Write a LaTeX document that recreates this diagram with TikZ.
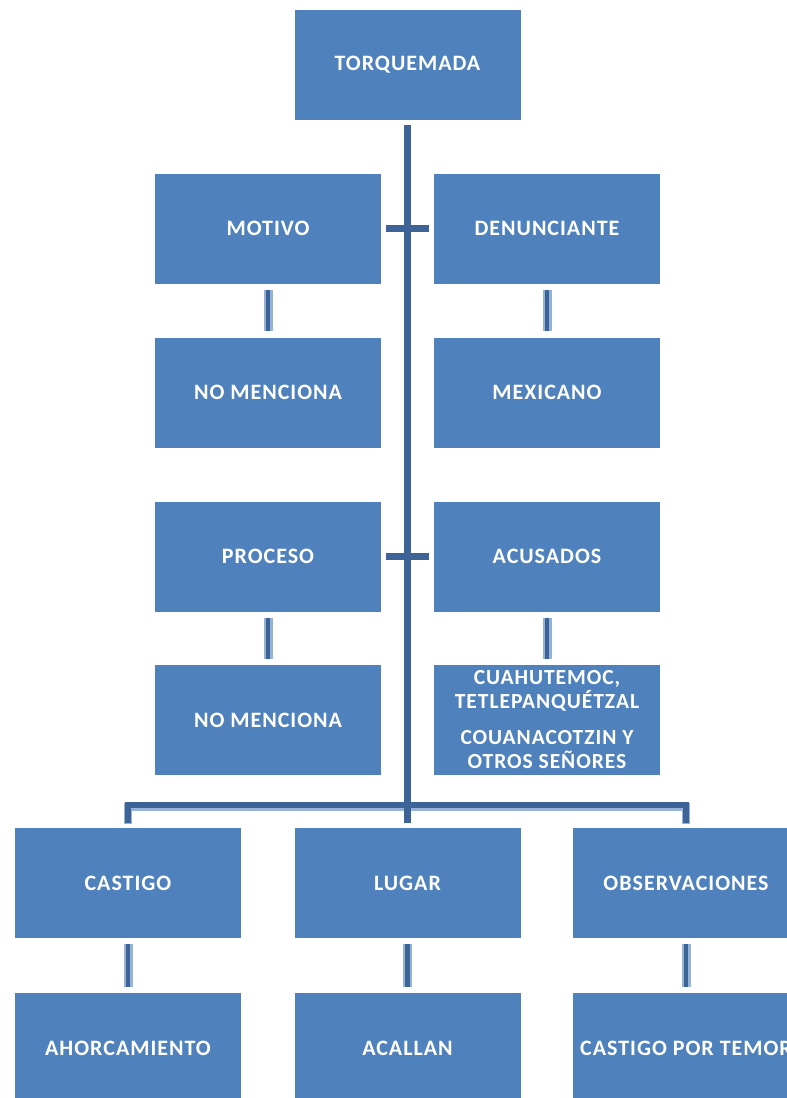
\documentclass[tikz,border=0pt]{standalone}
\usepackage{fontspec}
\setmainfont{Carlito}[LetterSpace=4.5]
\definecolor{boxblue}{RGB}{79,129,189}
\definecolor{conndark}{RGB}{60,100,150}
\definecolor{connlight}{RGB}{149,179,215}
\begin{document}
\begin{tikzpicture}[x=1pt,y=-1pt,
  box/.style={rectangle,fill=boxblue,draw=none,minimum width=226pt,minimum height=110pt,
    inner sep=0pt,text=white,font=\fontsize{22}{25}\selectfont\bfseries,align=center},
  trunk/.style={draw=conndark,line width=7pt},
  shortconn/.style={draw=conndark,line width=4.5pt,
    preaction={draw=connlight,line width=9pt}},
  bus/.style={draw=conndark,line width=6pt,
    preaction={draw=connlight,line width=8pt,transform canvas={yshift=-1.5pt}}}]
\useasboundingbox (0,0) rectangle (787,1098);
\fill[white] (0,0) rectangle (787,1098);
\node[box] (torq) at (407.5,65) {TORQUEMADA};
\node[box] (motivo) at (268,228.5) {MOTIVO};
\node[box] (denun) at (547,228.5) {DENUNCIANTE};
\node[box] (nomen1) at (268,392.5) {NO MENCIONA};
\node[box] (mexi) at (547,392.5) {MEXICANO};
\node[box] (proceso) at (268,556.5) {PROCESO};
\node[box] (acus) at (547,556.5) {ACUSADOS};
\node[box] (nomen2) at (268,720) {NO MENCIONA};
\node[box,font=\fontsize{21.5}{24}\selectfont\bfseries] (cuau) at (547,720)
  {CUAHUTEMOC,\\TETLEPANQUÉTZAL\\[12pt]COUANACOTZIN Y\\OTROS SEÑORES};
\node[box] (castigo) at (128,883) {CASTIGO};
\node[box] (lugar) at (407.5,883) {LUGAR};
\node[box] (obs) at (686,883) {OBSERVACIONES};
\node[box] (ahorc) at (128,1048) {AHORCAMIENTO};
\node[box] (acallan) at (407.5,1048) {ACALLAN};
\node[box] (temor) at (686,1048) {CASTIGO POR TEMOR};
\coordinate (busy) at (407.5,805);
% bus
\draw[bus] ([yshift=5pt]castigo.north) |- (busy) -| ([yshift=5pt]obs.north);
% trunk
\draw[trunk] ([yshift=-5pt]torq.south) -- ([yshift=5pt]lugar.north);
% crossbars
\draw[trunk] ([xshift=5pt]motivo.east) -- ([xshift=-5pt]denun.west);
\draw[trunk] ([xshift=5pt]proceso.east) -- ([xshift=-5pt]acus.west);
% short connectors
\draw[shortconn] ([yshift=-6pt]motivo.south) -- ([yshift=6pt]nomen1.north);
\draw[shortconn] ([yshift=-6pt]denun.south) -- ([yshift=6pt]mexi.north);
\draw[shortconn] ([yshift=-6pt]proceso.south) -- ([yshift=6pt]nomen2.north);
\draw[shortconn] ([yshift=-6pt]acus.south) -- ([yshift=6pt]cuau.north);
\draw[shortconn] ([yshift=-6pt]castigo.south) -- ([yshift=6pt]ahorc.north);
\draw[shortconn] ([yshift=-6pt]lugar.south) -- ([yshift=6pt]acallan.north);
\draw[shortconn] ([yshift=-6pt]obs.south) -- ([yshift=6pt]temor.north);
\end{tikzpicture}
\end{document}
